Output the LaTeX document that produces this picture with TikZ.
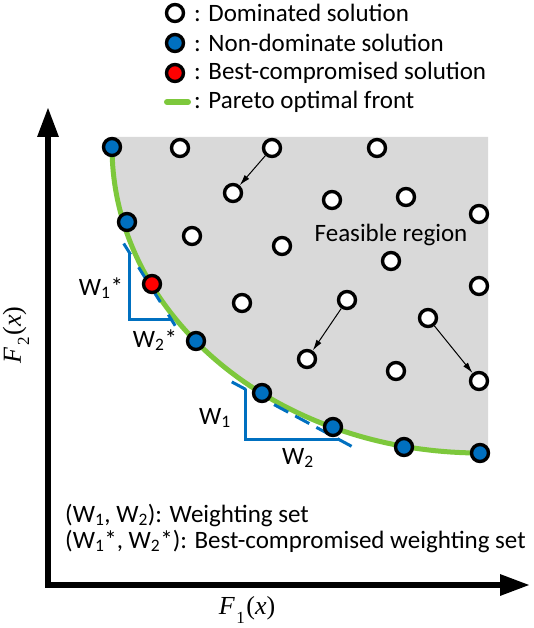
\documentclass[tikz,border=0pt]{standalone}
\usepackage{fontspec}
\setmainfont{Carlito}
\newfontfamily\tnr{Liberation Serif}
\usetikzlibrary{arrows.meta,calc}
\definecolor{offblue}{RGB}{0,112,192}
\definecolor{pgreen}{RGB}{125,200,60}
\definecolor{fgray}{RGB}{217,217,217}
\newcommand{\lowsub}[1]{\kern1.5pt\raisebox{-0.32em}{\fontsize{17}{20}\selectfont #1}\kern1.5pt}
\begin{document}
\begin{tikzpicture}[x=1pt,y=-1pt,
  dom/.style={circle,draw=black,fill=white,line width=3.4pt,minimum size=17pt,inner sep=0pt},
  nd/.style={dom,fill=offblue},
  best/.style={dom,fill=red},
  txt/.style={inner sep=0pt,font=\fontsize{25}{30}\selectfont},
  mathlbl/.style={inner sep=0pt,font=\fontsize{26}{30}\selectfont\tnr},
  arr/.style={line width=1pt,-{Latex[length=11pt,width=6pt]}},
  wline/.style={draw=offblue,line width=3pt},
  front/.style={draw=pgreen,line width=5pt}]
\useasboundingbox (0,0) rectangle (533,628);
% feasible region
\fill[fgray] (112,137) -- (488,137) -- (488,453) -- (480,453)
  -- plot[domain=90:0,samples=80] ({480-368*cos(\x)},{147+306*sin(\x)}) -- cycle;
% Pareto front
\draw[front] plot[domain=0:90,samples=80] ({480-368*cos(\x)},{147+306*sin(\x)}) -- (489,453);
% weighting triangles
\coordinate (a1) at (129,252);
\coordinate (a2) at (129,319);
\coordinate (a3) at (171,319);
\draw[wline,line join=miter] (a1) -- (a2) -- (a3);
\draw[wline,dash pattern=on 13pt off 15pt] ($(a1)!-10pt!(a3)$) -- ($(a1)!87pt!(a3)$);
\coordinate (b1) at (245,389);
\coordinate (b2) at (245,439);
\coordinate (b3) at (338,439);
\draw[wline,line join=miter] (b1) -- (b2) -- (b3);
\draw[wline,dash pattern=on 16pt off 8pt] ($(b1)!-15pt!(b3)$) -- ($(b1)!121pt!(b3)$);
% dominated solutions
\node[dom] (d1) at (180,148) {};
\node[dom] (d2) at (272,148) {};
\node[dom] (d3) at (377,148) {};
\node[dom] (d4) at (233,193) {};
\node[dom] (d5) at (332,200) {};
\node[dom] (d6) at (406,197) {};
\node[dom] (d7) at (479,214) {};
\node[dom] (d8) at (192,236) {};
\node[dom] (d9) at (282,246) {};
\node[dom] (d10) at (391,261) {};
\node[dom] (d11) at (479,286) {};
\node[dom] (d12) at (242,303) {};
\node[dom] (d13) at (347,300) {};
\node[dom] (d14) at (428,318) {};
\node[dom] (d15) at (307,359) {};
\node[dom] (d16) at (396,371) {};
\node[dom] (d17) at (479,381) {};
\draw[arr] (d2) -- (d4);
\draw[arr] (d13) -- (d15);
\draw[arr] (d14) -- (d17);
% non-dominated solutions
\node[nd] (n1) at (112,147) {};
\node[nd] (n2) at (127,222) {};
\node[best] (r1) at (152,284) {};
\node[nd] (n3) at (196,341) {};
\node[nd] (n4) at (262,393) {};
\node[nd] (n5) at (333,427) {};
\node[nd] (n6) at (404,447) {};
\node[nd] (n7) at (480,453) {};
% labels
\node[txt] (fr) at (391,235) {Feasible region};
\node[txt] (w1s) at (101,288) {W\textsubscript{1}*};
\node[txt] (w2s) at (155,340) {W\textsubscript{2}*};
\node[txt] (w1) at (215,418) {W\textsubscript{1}};
\node[txt] (w2) at (298,458) {W\textsubscript{2}};
% legend
\node[dom] (l1) at (175,13) {};
\node[nd] (l2) at (175,43) {};
\node[best] (l3) at (175,73) {};
\coordinate (g1) at (167,102);
\coordinate (g2) at (188,102);
\draw[front,line width=6pt,line cap=round] (g1) -- (g2);
\node[txt,anchor=west] (t1) at (194,13) {: Dominated solution};
\node[txt,anchor=west] (t2) at (194,43) {: Non-dominate solution};
\node[txt,anchor=west] (t3) at (194,73) {: Best-compromised solution};
\node[txt,anchor=west] (t4) at (194,102) {: Pareto optimal front};
% bottom notes
\node[txt,anchor=west] (b1t) at (65,515) {(W\textsubscript{1}, W\textsubscript{2}): Weighting set};
\node[txt,anchor=west] (b2t) at (65,541) {(W\textsubscript{1}*, W\textsubscript{2}*): Best-compromised weighting set};
% axes
\coordinate (O) at (48,585);
\coordinate (Y) at (48,107);
\coordinate (X) at (530,585);
\draw[line width=6pt,line join=miter,{Triangle[length=30pt,width=20pt]}-{Triangle[length=30pt,width=20pt]}] (Y) -- (O) -- (X);
\node[mathlbl] (f1) at (247,610) {\textit{F}\lowsub{1}(\textit{x})};
\node[mathlbl,rotate=90] (f2) at (16,335) {\textit{F}\lowsub{2}(\textit{x})};
\end{tikzpicture}
\end{document}
